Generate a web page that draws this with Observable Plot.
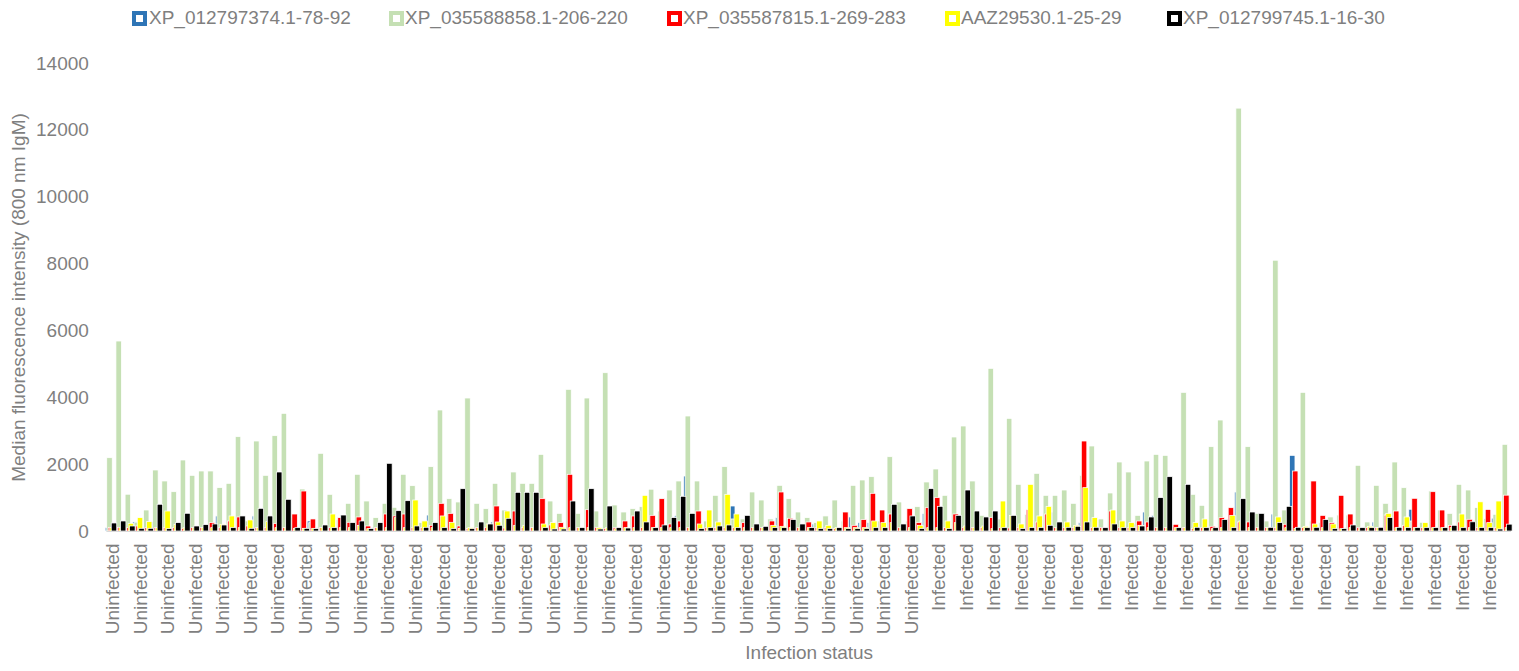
<!DOCTYPE html>
<html><head><meta charset="utf-8">
<script src="https://cdn.jsdelivr.net/npm/d3@7"></script>
<script src="https://cdn.jsdelivr.net/npm/@observablehq/plot@0.6"></script>
<style>
body{margin:0;background:#fff;font-family:"Liberation Sans",Arial,sans-serif;}
#wrap{position:relative;width:1519px;height:671px;}
#legend{position:absolute;left:0;top:0;width:1519px;height:40px;}
.mk{position:absolute;top:11px;width:15px;height:15px;box-sizing:border-box;border:4px solid;background:#fff;}
.lt{position:absolute;top:7px;font-size:19px;line-height:22px;color:#7f7f7f;white-space:nowrap;}
</style></head><body>
<div id="wrap"><div id="chart"></div><div id="legend"></div></div>
<script>
const seriesNames = ["XP_012797374.1-78-92","XP_035588858.1-206-220","XP_035587815.1-269-283","AAZ29530.1-25-29","XP_012799745.1-16-30"];
const seriesColors = ["#2e75b6","#c5e0b4","#ff0000","#ffff00","#000000"];
const groupLabels = ["Uninfected","Infected"];
const groupCounts = [90, 63];
const yTicks = [0,2000,4000,6000,8000,10000,12000,14000];

const blue = [
100,100,100,270,100,280,100,100,100,100,
100,100,450,100,100,100,450,100,100,100,
100,100,300,100,100,100,100,100,100,100,
100,100,100,100,100,478,100,100,100,100,
100,100,270,100,100,100,100,100,100,100,
100,100,90,100,100,100,100,100,100,100,
100,100,468,1645,100,100,100,100,748,100,
100,100,100,400,100,100,100,210,100,100,
100,420,250,250,100,100,100,100,100,528,
100,100,100,100,100,100,100,100,100,100,
100,100,100,568,100,100,250,100,100,100,
100,100,210,568,468,100,100,100,100,100,
100,100,100,1167,100,100,100,508,100,2263,
100,100,100,100,100,100,100,100,270,100,
100,100,650,100,100,100,100,100,100,100,
100,385,100];
const green = [
2193,5683,1100,250,628,1825,1496,1176,2124,1665,
1795,1795,1300,1426,2822,300,2692,1665,2852,3520,
400,1256,250,2324,1097,350,828,1696,897,400,
828,708,1696,1356,250,1925,3620,967,868,3978,
828,668,1426,628,1765,1426,1426,2293,897,528,
4238,528,3978,598,4735,778,568,668,728,1250,
598,1226,1496,3440,1496,300,1067,1925,360,360,
1167,927,360,1366,967,568,400,250,450,927,
300,1366,1526,1625,300,2223,868,300,728,1466,
1855,1067,2812,3141,1496,468,4866,360,3370,1396,
500,1725,1067,1067,1226,828,1665,2543,360,1137,
2064,1765,468,2094,2293,2263,200,4148,1097,768,
2523,3320,300,12650,2523,528,300,8100,628,300,
4148,300,250,420,478,478,1965,270,1366,828,
2064,1296,300,260,1196,628,528,1396,1226,700,
375,500,2593];
const red = [
110,110,100,150,100,100,100,100,80,100,
100,250,100,300,420,150,100,100,220,100,
508,1196,360,100,100,400,260,420,150,100,
508,450,508,100,100,170,828,528,150,80,
100,100,748,90,598,100,100,967,180,250,
1696,100,638,110,80,100,300,450,100,468,
967,210,300,100,598,100,100,100,100,250,
100,100,300,1167,380,100,270,100,100,70,
568,170,340,1127,628,508,100,668,250,698,
998,100,508,100,100,100,400,100,90,100,
638,270,508,100,100,100,2692,100,100,598,
100,100,300,270,100,100,200,100,80,100,
140,400,698,270,270,100,100,100,200,1795,
100,1496,468,250,1067,508,100,100,100,478,
598,170,978,100,1176,628,170,270,350,100,
645,100,1072];
const yellow = [
100,100,230,400,280,100,598,200,100,100,
100,100,200,450,100,330,100,280,100,100,
80,80,80,100,508,100,100,170,70,100,
100,400,100,927,300,100,450,260,80,100,
100,210,270,598,170,170,100,210,250,110,
100,100,100,100,100,70,100,100,1067,100,
100,100,100,100,210,628,270,1097,508,100,
100,100,170,140,100,100,100,300,170,100,
100,100,100,300,250,250,100,100,170,100,
100,300,250,150,100,150,70,897,468,210,
1396,450,738,100,270,170,1297,400,70,628,
300,250,170,100,100,100,100,100,250,360,
70,100,468,300,100,100,100,420,100,80,
140,210,100,210,70,100,70,140,100,528,
100,420,100,250,100,100,100,508,100,873,
250,897,100];
const black = [
240,300,150,80,80,800,70,250,530,150,
190,210,180,100,450,80,678,450,1765,948,
100,80,70,180,100,478,250,300,70,250,
2025,608,907,150,110,250,100,70,1266,70,
270,210,170,380,1157,1157,1157,100,60,60,
897,100,1266,60,748,100,90,598,270,100,
180,400,1038,528,70,100,150,180,100,468,
210,140,100,100,340,210,100,70,70,100,
70,70,70,100,100,798,210,450,70,1266,
738,70,468,1226,598,420,598,100,468,70,
100,100,170,270,110,140,270,110,100,210,
100,100,150,420,998,1625,100,1396,110,100,
100,340,100,967,568,528,110,250,738,110,
100,110,340,70,70,180,100,100,110,400,
110,100,100,100,100,100,170,100,275,100,
100,60,205];

const seriesValues = [blue, green, red, yellow, black];
const status = groupLabels.flatMap((g, j) => Array(groupCounts[j]).fill(g));
const idx = d3.range(status.length);
const rows = idx.map(i => ({i, status: status[i], v0: blue[i], v1: green[i], v2: red[i], v3: yellow[i], v4: black[i]}));

// bar placement inside each category band (overlapping clustered bars)
const bandW = 9.18, barW = 5.5, step = 1.5;
const insL = k => 1.84 + (k - 2) * step;
const insR = k => bandW - barW - insL(k);

const axisColor = "#7f7f7f";
const font = "Liberation Sans, Arial, sans-serif";

const chart = Plot.plot({
  width: 1519, height: 671,
  marginLeft: 106.4, marginRight: 1519 - 106.4 - bandW * status.length,
  marginTop: 63, marginBottom: 140,
  style: {fontFamily: font, background: "#fff"},
  x: {type: "band", domain: idx, padding: 0, round: false},
  y: {domain: [0, 14000]},
  marks: [
    ...seriesValues.map((vals, k) => Plot.barY(rows, {
      x: "i", y: "v" + k, fill: seriesColors[k], stroke: "#fff", strokeWidth: 0.75,
      insetLeft: insL(k), insetRight: insR(k)
    })),
    Plot.ruleY([0], {stroke: "#d9d9d9"}),
    Plot.axisY(yTicks, {tickSize: 0, tickPadding: 18, fontSize: 19, fill: axisColor, tickFormat: d => String(d), label: null}),
    Plot.axisX(idx.filter(i => i % 3 === 0), {tickSize: 0, tickRotate: -90, tickPadding: 12, dx: 1.5, fontSize: 19, fill: axisColor, tickFormat: i => status[i], label: null}),
    Plot.text(["Median fluorescence intensity (800 nm IgM)"], {frameAnchor: "left", textAnchor: "middle", dx: -88, rotate: -90, fontSize: 19, fill: axisColor}),
    Plot.text(["Infection status"], {frameAnchor: "bottom", dy: 127, fontSize: 19, fill: axisColor})
  ]
});
document.getElementById("chart").appendChild(chart);

const legendPos = [[132,149],[389,405],[667,683],[945,961],[1167,1183]];
const lg = document.getElementById("legend");
seriesNames.forEach((name, k) => {
  const m = document.createElement("div");
  m.className = "mk"; m.style.left = legendPos[k][0] + "px"; m.style.borderColor = seriesColors[k];
  const t = document.createElement("div");
  t.className = "lt"; t.style.left = legendPos[k][1] + "px"; t.textContent = name;
  lg.appendChild(m); lg.appendChild(t);
});
</script>
</body></html>
